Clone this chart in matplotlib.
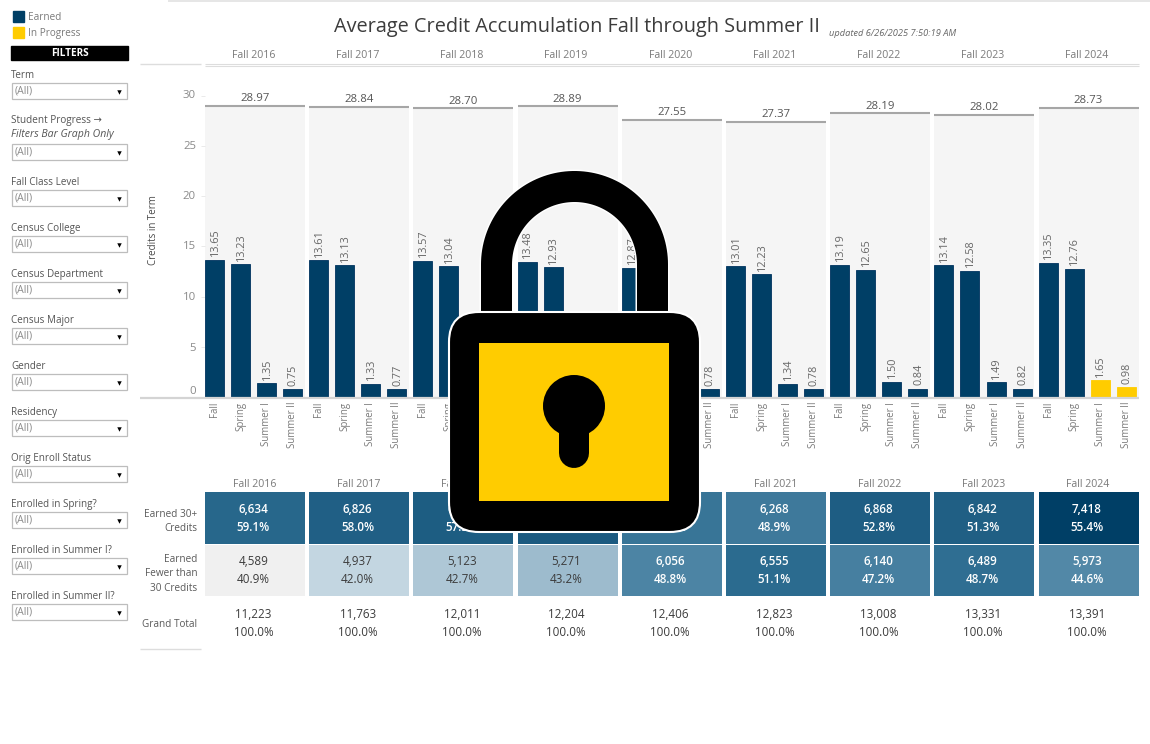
import matplotlib
matplotlib.use('Agg')
import matplotlib.pyplot as plt
from matplotlib.colors import LinearSegmentedColormap, Normalize
from matplotlib.patches import Rectangle, FancyBboxPatch, Circle
from matplotlib.transforms import ScaledTranslation
import numpy as np

plt.rcParams['font.family'] = ['Open Sans', 'DejaVu Sans']

W, H = 1150, 744

years = ['Fall 2016', 'Fall 2017', 'Fall 2018', 'Fall 2019', 'Fall 2020',
         'Fall 2021', 'Fall 2022', 'Fall 2023', 'Fall 2024']
terms = ['Fall', 'Spring', 'Summer I', 'Summer II']

fall_credits = [13.65, 13.61, 13.57, 13.48, 12.87, 13.01, 13.19, 13.14, 13.35]
spring_credits = [13.23, 13.13, 13.04, 12.93, 12.47, 12.23, 12.65, 12.58, 12.76]
summer1_credits = [1.35, 1.33, 1.33, 1.55, 1.43, 1.34, 1.50, 1.49, 1.65]
summer2_credits = [0.75, 0.77, 0.76, 0.93, 0.78, 0.78, 0.84, 0.82, 0.98]
total_credits = [28.97, 28.84, 28.70, 28.89, 27.55, 27.37, 28.19, 28.02, 28.73]

earned_30 = [6634, 6826, 6888, 6933, 6350, 6268, 6868, 6842, 7418]
earned_30_pct = [59.1, 58.0, 57.3, 56.8, 51.2, 48.9, 52.8, 51.3, 55.4]
fewer_30 = [4589, 4937, 5123, 5271, 6056, 6555, 6140, 6489, 5973]
fewer_30_pct = [40.9, 42.0, 42.7, 43.2, 48.8, 51.1, 47.2, 48.7, 44.6]
grand_total = [11223, 11763, 12011, 12204, 12406, 12823, 13008, 13331, 13391]

filter_names = ['Term', 'Student Progress', 'Fall Class Level', 'Census College',
                'Census Department', 'Census Major', 'Gender', 'Residency',
                'Orig Enroll Status', 'Enrolled in Spring?', 'Enrolled in Summer I?',
                'Enrolled in Summer II?']
filter_box_top = [83, 144, 190, 236, 282, 328, 374, 420, 466, 512, 558, 604]

NAVY = '#003f66'
GOLD = '#ffcc00'
GREY = '#7a7a7a'
DARK = '#555555'


def to_fig(x0, y0, x1, y1):
    # pixel box (y down) to figure fractions
    return [x0 / W, 1 - y1 / H, (x1 - x0) / W, (y1 - y0) / H]


fig = plt.figure(figsize=(W / 100, H / 100), dpi=100, facecolor='white')

# bar chart
ax = fig.add_axes(to_fig(205, 66, 1139, 397))
slot = 104.2 / 4
ax.set_xlim(-9.5 / slot, (1139 - 214.5) / slot)
ax.set_ylim(0, 331 / 10.04)
for s in ax.spines.values():
    s.set_visible(False)
ax.patch.set_alpha(0)

series = [fall_credits, spring_credits, summer1_credits, summer2_credits]
for i in range(len(years)):
    left = i * 4 - 9.5 / slot
    ax.bar(left, total_credits[i], width=100 / slot, align='edge', color='#f5f5f5', zorder=1)
    ax.plot([left, left + 100 / slot], [total_credits[i] + 0.05] * 2, color='#a6a6a6', lw=1.5,
            zorder=2, solid_capstyle='butt')
    ax.text(i * 4 + 1.55, total_credits[i] + 0.22, f'{total_credits[i]:.2f}', ha='center',
            va='bottom', fontsize=8.2, color='#555555')
    for j, vals in enumerate(series):
        in_progress = i == 8 and j >= 2
        ax.bar(i * 4 + j, vals[i], width=19 / slot, color=GOLD if in_progress else NAVY,
               edgecolor=GOLD if in_progress else '#00335f', linewidth=0.6, zorder=3)
        ax.text(i * 4 + j + 0.03, vals[i] + 0.35, f'{vals[i]:.2f}', rotation=90, ha='center',
                va='bottom', fontsize=7.8, color='#666666', zorder=4)

ax.set_xticks(np.arange(36))
ax.set_xticklabels(terms * 9, rotation=90, fontsize=6.9, color=GREY)
ax.tick_params(axis='x', length=0, pad=3.5)
ax.set_yticks([0, 5, 10, 15, 20, 25, 30])
ax.tick_params(axis='y', length=3, width=0.6, color='#e6e6e6', labelsize=8.2,
               labelcolor='#8a8a8a', pad=3)
for tick, lift in zip(ax.get_yticklabels(), [7, 0, 1, 1, 1, 1, 2]):
    tick.set_transform(ax.get_yaxis_transform(which='tick1') +
                       ScaledTranslation(-9 / 100, lift / 100, fig.dpi_scale_trans))

# table of student counts
tb = fig.add_axes(to_fig(205, 492, 1139, 649.5))
tb.set_xlim(0, 934 / 104.2)
tb.set_ylim(3, 0)
for s in tb.spines.values():
    s.set_visible(False)
tb.patch.set_alpha(0)
tb.set_xticks(np.arange(9) + 0.475)
tb.set_xticklabels(years, fontsize=7.6, color=GREY)
tb.xaxis.tick_top()
tb.tick_params(axis='x', length=0, pad=1.5)
tb.set_yticks([0.5, 1.5, 2.5])
tb.set_yticklabels(['Earned 30+\nCredits', 'Earned\nFewer than\n30 Credits', 'Grand Total'],
                   fontsize=7.2, color='#5a5a5a', linespacing=1.4)
tb.tick_params(axis='y', length=0, pad=5.5)

cmap = LinearSegmentedColormap.from_list('counts', [(0, '#f0f0f0'), (0.12, '#c4d6e1'),
                                                    (0.24, '#9dbbcd'), (0.5, '#4f86a6'),
                                                    (0.7, '#2a6a8e'), (0.82, '#1d5c82'),
                                                    (1, '#003f66')])
norm = Normalize(4589, 7418)
for i in range(len(years)):
    for row, (counts, pcts) in enumerate([(earned_30, earned_30_pct), (fewer_30, fewer_30_pct)]):
        v = counts[i]
        tb.bar(i, 0.985, bottom=row + 0.005, width=100 / 104.2, align='edge', color=cmap(norm(v)))
        white = v > 5400
        tb.text(i + 0.465, row + 0.5, f'{v:,}\n{pcts[i]:.1f}%', ha='center', va='center',
                fontsize=8.4, linespacing=1.5, color='white' if white else '#3c3c3c',
                fontweight='semibold' if white else 'normal')
    tb.text(i + 0.465, 2.5, f'{grand_total[i]:,}\n100.0%', ha='center', va='center',
            fontsize=8.4, linespacing=1.5, color='#3c3c3c')

# overlay in pixel units for dashboard furniture and the lock
ov = fig.add_axes([0, 0, 1, 1], zorder=10)
ov.set_xlim(0, W)
ov.set_ylim(H, 0)
ov.axis('off')

ov.text(576.5, 27, 'Average Credit Accumulation Fall through Summer II', ha='center', va='center',
        fontsize=14.35, color='#3c3c3c')
ov.text(829, 33.5, 'updated 6/26/2025 7:50:19 AM', ha='left', va='center', fontsize=6.7,
        style='italic', color='#666666')
ov.text(153, 230, 'Credits in Term', rotation=90, ha='center', va='center', fontsize=7,
        color='#4a4a4a')
for i, y in enumerate(years):
    ov.text(253.5 + i * 104.2, 56, y, ha='center', va='center', fontsize=7.6, color=GREY)

line_kw = dict(solid_capstyle='butt')
ov.plot([168, W], [0.5, 0.5], color='#e2e2e2', lw=1.2, **line_kw)
ov.plot([140, 201], [63.5, 63.5], color='#dddddd', lw=1, **line_kw)
ov.plot([205, 1139], [63.5, 63.5], color='#dddddd', lw=0.8, **line_kw)
ov.plot([205, 1139], [65.5, 65.5], color='#dddddd', lw=0.8, **line_kw)
ov.plot([140, 1139], [398, 398], color='#d4d4d4', lw=1.6, **line_kw)
ov.plot([140, 201], [649, 649], color='#dddddd', lw=1, **line_kw)

# legend
ov.add_patch(Rectangle((13, 11), 11, 11, color=NAVY))
ov.add_patch(Rectangle((13, 27), 11, 11, color=GOLD))
ov.text(28, 17, 'Earned', va='center', fontsize=7.2, color=GREY)
ov.text(28, 33.5, 'In Progress', va='center', fontsize=7.2, color=GREY)

# filters
ov.add_patch(Rectangle((11, 46), 117, 14, color='black'))
ov.text(69.5, 53.5, 'FILTERS', ha='center', va='center', fontsize=7.2, fontweight='bold', color='white')
for name, top in zip(filter_names, filter_box_top):
    if name == 'Student Progress':
        ov.text(11, top - 23, 'Student Progress →', va='center', fontsize=7.2, color=DARK)
        ov.text(11, top - 9, 'Filters Bar Graph Only', va='center', fontsize=7.6, style='italic', color=DARK)
    else:
        ov.text(11, top - 7.5, name, va='center', fontsize=7.1, color=DARK)
    ov.add_patch(Rectangle((12, top), 115, 16, facecolor='white', edgecolor='#bdbdbd', lw=0.9))
    ov.text(15, top + 8, '(All)', va='center', fontsize=7.6, color='#8c8c8c')
    ov.plot([119], [top + 8.5], marker='v', ms=3.2, color='black', mew=0)

# lock, above everything else in the overlay
px = 72 / 100
theta = np.linspace(np.pi, 0, 80)
arch_x = np.r_[496.5, 574.5 + 78 * np.cos(theta), 652.5]
arch_y = np.r_[320, 264.5 - 78 * np.sin(theta), 320]
ov.plot(arch_x, arch_y, color='white', lw=34 * px, solid_capstyle='butt', zorder=20)
ov.plot(arch_x, arch_y, color='black', lw=31 * px, solid_capstyle='butt', zorder=21)
ov.add_patch(FancyBboxPatch((479, 342), 191, 160, boxstyle='round,pad=30,rounding_size=30',
                            facecolor='black', edgecolor='white', lw=1.5, zorder=22))
ov.add_patch(Rectangle((479, 343), 190, 158, color=GOLD, ec='none', zorder=23))
ov.add_patch(Circle((574, 406), 31, color='black', ec='none', zorder=24))
ov.plot([574, 574], [425, 453], color='black', lw=30 * px, solid_capstyle='round', zorder=24)

fig.savefig('out.png', dpi=100, facecolor='white')
